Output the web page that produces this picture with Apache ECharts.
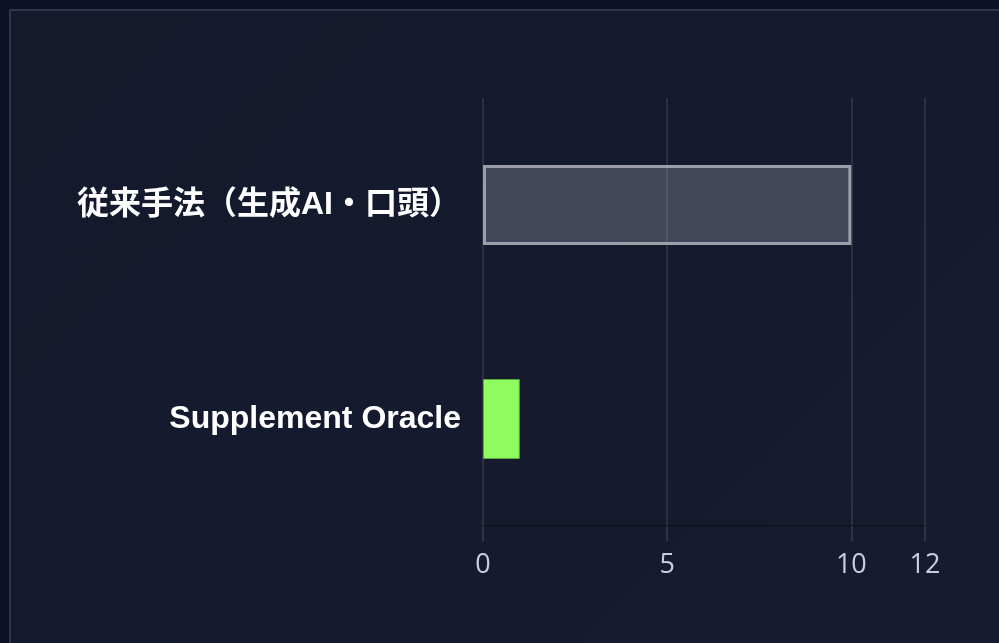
<!DOCTYPE html>
<html>
<head>
<meta charset="utf-8">
<script src="https://cdn.jsdelivr.net/npm/echarts@6/dist/echarts.min.js"></script>
<style>
  html, body { margin: 0; padding: 0; background: #0c1127; overflow: hidden; }
  #frame {
    position: absolute; left: 9px; top: 9px; width: 1100px; height: 800px;
    border: 2px solid #30354a;
    background: linear-gradient(135deg, #141a2c 0%, #151a2e 50%, #171c31 100%);
  }
  #chart { position: absolute; left: 0; top: 0; width: 999px; height: 643px; }
</style>
</head>
<body>
<div id="frame"></div>
<div id="chart"></div>
<script>
const categories = ['従来手法（生成AI・口頭）', 'Supplement Oracle'];
const values = [10, 1];
const barColors = ['rgba(160,163,180,0.33)', '#8efc5e'];
const barBorders = ['#9c9ea8', '#5aa83a'];

const chart = echarts.init(document.getElementById('chart'));

chart.setOption({
  backgroundColor: 'transparent',
  grid: { left: 483, right: 74, top: 98, bottom: 117, containLabel: false },
  xAxis: {
    type: 'value',
    min: 0,
    max: 12,
    interval: 5,
    axisLine: { show: true, lineStyle: { color: '#0f1322', width: 2 } },
    axisTick: { show: true, length: 15, lineStyle: { color: '#2f3547', width: 2 } },
    splitLine: { show: true, lineStyle: { color: '#2b3143', width: 2 } },
    axisLabel: {
      color: '#c6cfdf',
      fontSize: 27,
      fontFamily: '"Open Sans", sans-serif',
      margin: 26
    }
  },
  yAxis: {
    type: 'category',
    inverse: true,
    data: categories,
    axisLine: { show: false },
    axisTick: { show: false },
    axisLabel: {
      color: '#ffffff',
      fontSize: 32,
      fontWeight: 'bold',
      fontFamily: '"Liberation Sans", "Noto Sans CJK JP", sans-serif',
      margin: 22
    }
  },
  series: [{
    type: 'bar',
    barWidth: 80,
    data: values.map((v, i) => ({
      value: v,
      itemStyle: {
        color: barColors[i],
        borderColor: barBorders[i],
        borderWidth: i === 0 ? 3 : 1
      }
    }))
  }]
});
</script>
</body>
</html>
